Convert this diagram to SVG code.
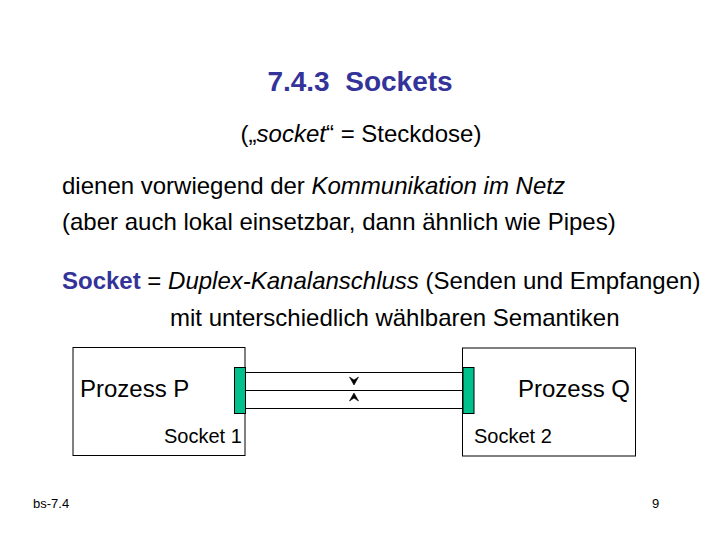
<svg xmlns="http://www.w3.org/2000/svg" width="720" height="540" viewBox="0 0 720 540">
<defs>
<style>
text{font-family:"Liberation Sans",Arial,sans-serif;fill:#000}
.t{font-size:24px}
.s{font-size:20px}
.b{font-weight:bold;fill:#333399}
.f{font-size:13px}
.box{fill:#fff;stroke:#000;stroke-width:1}
.sock{fill:#00c08c;stroke:#000;stroke-width:1}
.ln{stroke:#000;stroke-width:1;fill:none}
.ah{fill:#000;stroke:#000;stroke-width:0.6;stroke-linejoin:miter}
</style>
</defs>
<rect width="720" height="540" fill="#fff"/>
<g id="title"><text x="360" y="91" text-anchor="middle" class="b" style="font-size:28px" xml:space="preserve">7.4.3  Sockets</text></g>
<g id="text">
<text x="361" y="142" text-anchor="middle" class="t">(„<tspan font-style="italic">socket</tspan>“ = Steckdose)</text>
<text x="62" y="194" class="t">dienen vorwiegend der <tspan font-style="italic">Kommunikation im Netz</tspan></text>
<text x="62" y="230" class="t">(aber auch lokal einsetzbar, dann ähnlich wie Pipes)</text>
<text x="62" y="289" class="t"><tspan class="b">Socket</tspan> = <tspan font-style="italic">Duplex-Kanalanschluss</tspan> (Senden und Empfangen)</text>
<text x="170" y="326" class="t">mit unterschiedlich wählbaren Semantiken</text>
</g>
<g id="procP">
<rect class="box" x="73" y="347.5" width="172" height="108"/>
<text x="80" y="397" class="t">Prozess P</text>
<text x="164" y="443" class="s">Socket 1</text>
</g>
<g id="procQ">
<rect class="box" x="462.5" y="348" width="173" height="108"/>
<text x="630" y="397" text-anchor="end" class="t">Prozess Q</text>
<text x="474" y="443" class="s">Socket 2</text>
</g>
<g id="connectors">
<line class="ln" x1="246" y1="372.5" x2="463" y2="372.5"/>
<line class="ln" x1="246" y1="390.5" x2="463" y2="390.5"/>
<line class="ln" x1="246" y1="408.5" x2="463" y2="408.5"/>
<path class="ah" d="M354 385 L349.5 377 L354 380 L358.5 377 Z"/>
<path class="ah" d="M354 393 L349.5 401 L354 398 L358.5 401 Z"/>
</g>
<g id="socket1"><rect class="sock" x="234.5" y="367.5" width="11" height="46"/></g>
<g id="socket2"><rect class="sock" x="463" y="367.5" width="11" height="46"/></g>
<g id="footer">
<text x="33" y="508" class="f">bs-7.4</text>
<text x="652" y="508" class="f">9</text>
</g>
</svg>
